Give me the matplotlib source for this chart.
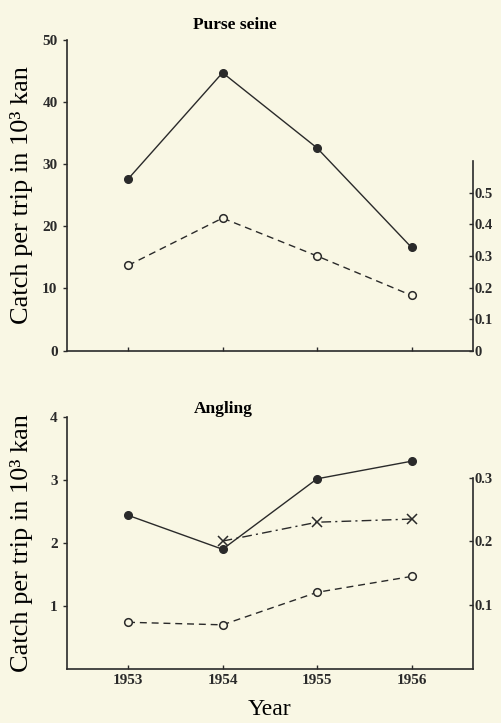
import numpy as np
import matplotlib
matplotlib.use("Agg")
import matplotlib.pyplot as plt

# data
years = [1953, 1954, 1955, 1956]

# purse seine
ps_catch = [27.6, 44.7, 32.6, 16.6]        # left axis, 10^3 kan
ps_ratio = [0.27, 0.42, 0.30, 0.175]       # right axis

# angling
ang_catch = [2.44, 1.90, 3.02, 3.30]       # left axis
ang_cross_years = [1954, 1955, 1956]
ang_cross = [2.03, 2.33, 2.38]             # left axis
ang_ratio = [0.073, 0.069, 0.120, 0.145]   # right axis

top_ticks = [0, 10, 20, 30, 40, 50]
top_rticks = [0, 0.1, 0.2, 0.3, 0.4, 0.5]
top_rlabels = ["0", "0.1", "0.2", "0.3", "0.4", "0.5"]
bot_ticks = [1, 2, 3, 4]
bot_rticks = [0.1, 0.2, 0.3]
bot_rlabels = ["0.1", "0.2", "0.3"]

paper = "#f9f7e4"
ink = "#2a2a2a"
plt.rcParams["font.family"] = ["Liberation Serif", "DejaVu Serif"]

fig = plt.figure(figsize=(5.01, 7.23), dpi=100, facecolor=paper)


def style(ax, twin):
    ax.set_facecolor("none")
    ax.spines["top"].set_visible(False)
    twin.spines["top"].set_visible(False)
    ax.spines["right"].set_visible(False)
    twin.spines["left"].set_visible(False)
    twin.spines["bottom"].set_visible(False)
    for sp in list(ax.spines.values()) + list(twin.spines.values()):
        sp.set_color(ink)
        sp.set_linewidth(1.2)
    ax.tick_params(axis="y", direction="out", length=3, colors=ink,
                   labelsize=11, width=1)
    ax.tick_params(axis="x", direction="in", length=3, colors=ink,
                   labelsize=11, width=1)
    twin.tick_params(axis="y", direction="in", length=3, colors=ink,
                     labelsize=10.5, width=1, pad=1)
    for lab in ax.get_yticklabels() + ax.get_xticklabels() + twin.get_yticklabels():
        lab.set_fontweight("bold")
    ax.yaxis.set_label_coords(-0.083, 0.5)


ylab = "Catch per trip in 10³ kan"

# ---- purse seine ----
ax1 = fig.add_axes([0.133, 0.515, 0.811, 0.430])
ax1r = ax1.twinx()
ax1.plot(years, ps_catch, "-", color=ink, lw=1.0, marker="o", ms=5.5,
         mfc=ink, mec=ink)
ax1r.plot(years, ps_ratio, "--", color=ink, lw=1.0, marker="o", ms=5.5,
          mfc=paper, mec=ink, mew=1.1, dashes=(5, 3.5))
ax1.set_xlim(1952.35, 1956.65)
ax1.set_ylim(0, 50)
ax1r.set_ylim(0, 0.985)
ax1.set_yticks(top_ticks)
ax1.set_xticks(years)
ax1.set_xticklabels([])
ax1r.set_yticks(top_rticks)
ax1r.set_yticklabels(top_rlabels)
ax1r.spines["right"].set_bounds(0, 0.6)
ax1.set_ylabel(ylab, fontsize=19)
ax1.set_title("Purse seine", fontsize=12.5, fontweight="bold", pad=8, x=0.415)
style(ax1, ax1r)

# ---- angling ----
ax2 = fig.add_axes([0.133, 0.075, 0.811, 0.348])
ax2r = ax2.twinx()
ax2.plot(years, ang_catch, "-", color=ink, lw=1.0, marker="o", ms=5.5,
         mfc=ink, mec=ink)
ax2.plot(ang_cross_years, ang_cross, color=ink, lw=1.0, marker="x", ms=6.5,
         mew=1.1, dashes=(7, 3, 1.5, 3))
ax2r.plot(years, ang_ratio, "--", color=ink, lw=1.0, marker="o", ms=5.5,
          mfc=paper, mec=ink, mew=1.1, dashes=(5, 3.5))
ax2.set_xlim(1952.35, 1956.65)
ax2.set_ylim(0, 4)
ax2r.set_ylim(0, 0.395)
ax2.set_yticks(bot_ticks)
ax2.set_xticks(years)
ax2r.set_yticks(bot_rticks)
ax2r.set_yticklabels(bot_rlabels)
ax2r.spines["right"].set_bounds(0, 0.3)
ax2.set_ylabel(ylab, fontsize=19)
ax2.set_xlabel("Year", fontsize=17, labelpad=9)
ax2.set_title("Angling", fontsize=12.5, fontweight="bold", pad=3, x=0.385)
style(ax2, ax2r)

fig.savefig("out.png", dpi=100, facecolor=paper)
